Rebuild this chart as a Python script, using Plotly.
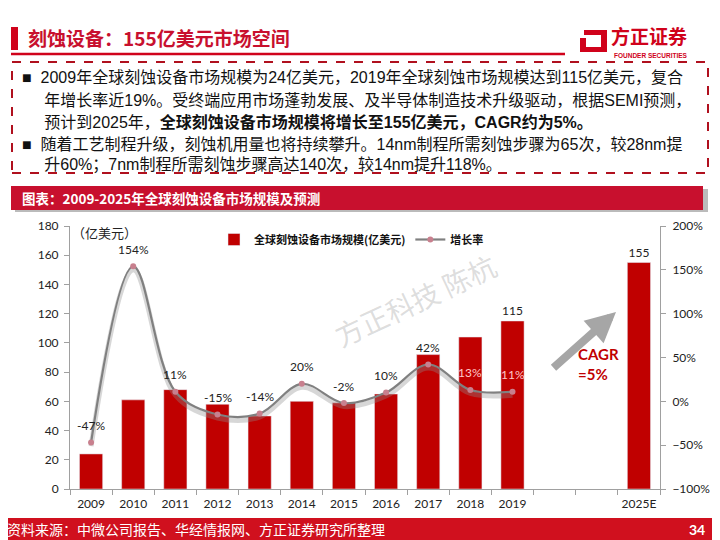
import plotly.graph_objects as go

# data
years = ["2009", "2010", "2011", "2012", "2013", "2014", "2015", "2016",
         "2017", "2018", "2019", " ", "  ", "2025E"]
market = [24, 61, 68, 58, 50, 60, 59, 65, 92, 104, 115, None, None, 155]
growth_years = years[:11]
growth = [-47, 154, 11, -15, -14, 20, -2, 10, 42, 13, 11]
bar_labels = ["", "", "", "", "", "", "", "", "", "", "115", "", "", "155"]

RED = "#C00000"
GRAY = "#808080"
CJK = "Noto Sans CJK SC, Noto Sans, sans-serif"
TXT = "Liberation Sans, Noto Sans CJK SC, sans-serif"
NUM = "Lato, Noto Sans CJK SC, sans-serif"

# the page body has an 8px margin, so the figure is drawn 8px in from the corner
OFF = 8
W, H = 720 - OFF, 540 - OFF


def px(x):
    return (x - OFF) / W


def py(y):
    return 1 - (y - OFF) / H


fig = go.Figure()

fig.add_trace(go.Bar(
    x=years, y=market, name="全球刻蚀设备市场规模(亿美元)",
    marker_color=RED, width=0.55,
    text=bar_labels, textposition="outside", cliponaxis=False,
    textfont=dict(family=NUM, size=12, color="#222222"),
))

# soft shadow under the growth line
fig.add_trace(go.Scatter(
    x=growth_years, y=[g - 4 for g in growth], yaxis="y2",
    mode="lines", line=dict(color="rgba(140,140,140,0.35)", width=5, shape="spline"),
    showlegend=False, hoverinfo="skip",
))

fig.add_trace(go.Scatter(
    x=growth_years, y=growth, yaxis="y2", name="增长率",
    mode="lines+markers",
    line=dict(color=GRAY, width=2.2, shape="spline"),
    marker=dict(color="#C8808E", size=6),
    cliponaxis=False,
))

shapes = [
    # header bar + underline
    dict(type="rect", x0=px(11), x1=px(18), y0=py(50), y1=py(27),
         fillcolor="#D0021B", line_width=0),
    dict(type="line", x0=px(11), x1=px(565), y0=py(54), y1=py(54),
         line=dict(color="#D0021B", width=2.5)),
    # dashed text box
    dict(type="rect", x0=px(12), x1=px(708), y0=py(173), y1=py(62),
         line=dict(color="#B0101E", width=2, dash="dash")),
    # chart title band with shadow
    dict(type="rect", x0=px(15), x1=px(708), y0=py(212), y1=py(189),
         fillcolor="#BBBBBB", line_width=0),
    dict(type="rect", x0=px(11), x1=px(703), y0=py(210), y1=py(186),
         fillcolor="#C8102E", line_width=0),
    # footer band
    dict(type="rect", x0=0, x1=1, y0=0, y1=py(518),
         fillcolor="#D0101E", line_width=0),
    # logo mark
    dict(type="path",
         path=f"M {px(584)} {py(30)} L {px(607)} {py(30)} L {px(607)} {py(52)} "
              f"L {px(580)} {py(52)} L {px(580)} {py(38)} L {px(586)} {py(38)} "
              f"L {px(586)} {py(47)} L {px(601)} {py(47)} L {px(601)} {py(35)} L {px(584)} {py(35)} Z",
         fillcolor="#D0021B", line_width=0),
]
for s in shapes:
    s.update(xref="paper", yref="paper", layer="below")

body = [
    (78, "■  2009年全球刻蚀设备市场规模为24亿美元，2019年全球刻蚀市场规模达到115亿美元，复合"),
    (100, "     年增长率近19%。受终端应用市场蓬勃发展、及半导体制造技术升级驱动，根据SEMI预测，"),
    (122, "     预计到2025年，<b>全球刻蚀设备市场规模将增长至155亿美元，CAGR约为5%。</b>"),
    (144, "■  随着工艺制程升级，刻蚀机用量也将持续攀升。14nm制程所需刻蚀步骤为65次，较28nm提"),
    (165, "     升60%；7nm制程所需刻蚀步骤高达140次，较14nm提升118%。"),
]

annotations = [
    dict(text="<b>刻蚀设备：155亿美元市场空间</b>", x=px(26), y=py(38), xanchor="left",
         font=dict(family=CJK, size=19, color="#C8102E")),
    dict(text="<b>方正证券</b>", x=px(609), y=py(36), xanchor="left",
         font=dict(family=CJK, size=19, color="#D0021B")),
    dict(text="<b>FOUNDER SECURITIES</b>", x=px(612), y=py(55), xanchor="left",
         font=dict(family="Liberation Sans", size=6.5, color="#D0021B")),
    dict(text="<b>图表：2009-2025年全球刻蚀设备市场规模及预测</b>", x=px(20), y=py(198), xanchor="left",
         font=dict(family=CJK, size=13.5, color="white")),
    dict(text="资料来源：中微公司报告、华经情报网、方正证券研究所整理", x=px(5), y=py(529), xanchor="left",
         font=dict(family=CJK, size=14, color="white")),
    dict(text="<b>34</b>", x=px(707), y=py(529), xanchor="right",
         font=dict(family=NUM, size=14, color="white")),
    dict(text="（亿美元）", x=px(70), y=py(233), xanchor="left",
         font=dict(family=CJK, size=13, color="#222222")),
    dict(text="方正科技 陈杭", x=px(415), y=py(300), xanchor="center", textangle=-25,
         font=dict(family=CJK, size=28, color="rgba(150,150,150,0.32)")),
    dict(text="", x=px(616), y=py(312), ax=-64, ay=57,
         showarrow=True, arrowhead=2, arrowsize=0.75, arrowwidth=8, arrowcolor="#A6A6A6"),
    dict(text="<b>CAGR<br>=5%</b>", x=px(576), y=py(364), xanchor="left", align="left",
         font=dict(family=NUM, size=15, color=RED)),
]
for y, t in body:
    annotations.append(dict(text=t, x=px(20), y=py(y), xanchor="left",
                            font=dict(family=TXT, size=16, color="#111111")))
for a in annotations:
    a.setdefault("xref", "paper")
    a.setdefault("yref", "paper")
    a.setdefault("yanchor", "middle")
    a.setdefault("showarrow", False)

# growth-rate labels sit a little above each marker; the last two are on bars
label_colors = ["#222222"] * 9 + ["#FFC8C8", "#FFC8C8"]
for i, (g, c) in enumerate(zip(growth, label_colors)):
    annotations.append(dict(text=f"{g}%", x=i, y=g, xref="x", yref="y2", yshift=17,
                            showarrow=False, font=dict(family=NUM, size=12, color=c)))

axis_font = dict(family=NUM, size=12, color="#222222")
fig.update_layout(
    width=W, height=H, margin=dict(l=0, r=0, t=0, b=0, autoexpand=False),
    paper_bgcolor="white", plot_bgcolor="rgba(0,0,0,0)",
    bargap=0.45,
    xaxis=dict(domain=[px(70), px(660)], type="category", categoryorder="array",
               categoryarray=years, range=[-0.5, len(years) - 0.5],
               showline=True, linecolor="#A0A0A0",
               ticks="outside", tickson="boundaries", ticklen=5, tickcolor="#A0A0A0",
               tickfont=axis_font, showgrid=False, tickangle=0, automargin=False,
               ticklabelstandoff=4),
    yaxis=dict(domain=[py(489), py(226)], range=[0, 180], dtick=20,
               showline=True, linecolor="#A0A0A0", ticks="outside", ticklen=5,
               tickcolor="#A0A0A0", tickfont=axis_font, showgrid=False, zeroline=False,
               automargin=False, ticklabelstandoff=3),
    yaxis2=dict(overlaying="y", side="right", range=[-100, 200], dtick=50, ticksuffix="%",
                showline=True, linecolor="#A0A0A0", ticks="outside", ticklen=5,
                tickcolor="#A0A0A0", tickfont=axis_font, showgrid=False, zeroline=False,
                anchor="x", automargin=False, ticklabelstandoff=4),
    legend=dict(orientation="h", x=px(214), y=py(225), xanchor="left", yanchor="top",
                font=dict(family=CJK, size=11, color="#111111", weight="bold"),
                bgcolor="rgba(0,0,0,0)"),
    shapes=shapes, annotations=annotations,
)

fig.write_html("out.html")
